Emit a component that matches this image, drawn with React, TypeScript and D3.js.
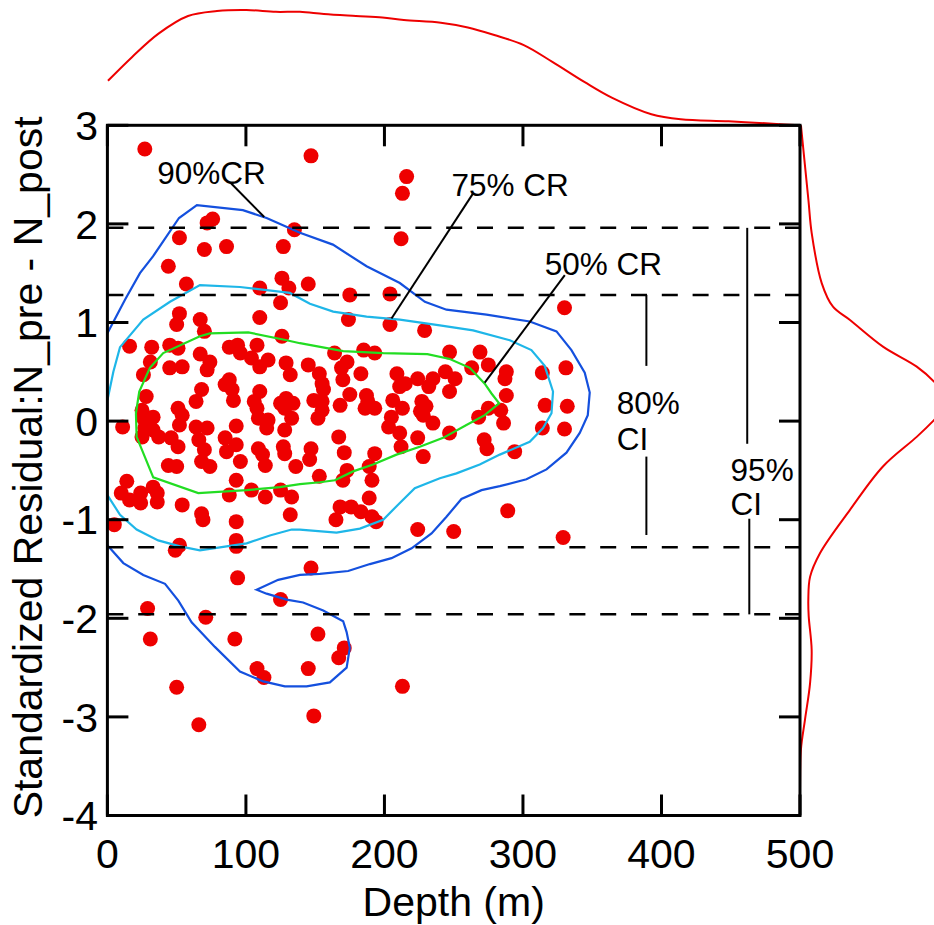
import React, { useEffect } from "react";
import * as d3 from "d3";

const W = 934;
const H = 925;
const xDomain: [number, number] = [0, 500];
const yDomain: [number, number] = [-4, 3];
const xTicks = [0, 100, 200, 300, 400, 500];
const yTicks = [3, 2, 1, 0, -1, -2, -3, -4];
const ciLevels = [1.96, 1.28, -1.28, -1.96];

// [depth (m), standardized residual]
const points: [number, number][] = [
  [27, 2.76], [147, 2.69], [76, 2.05], [72, 2.01], [52, 1.86], [70, 1.74], [86, 1.77], [135, 1.94],
  [44, 1.57], [127, 1.77], [57, 1.39], [110, 1.35], [126, 1.45], [131, 1.35], [145, 1.39], [125, 1.2],
  [52, 1.09], [50, 0.98], [67, 1.03], [70, 0.91], [110, 1.05], [126, 0.86],
  [216, 2.48], [213, 2.31], [212, 1.85], [175, 1.28], [204, 1.29], [174, 1.03], [204, 0.98], [229, 0.92],
  [330, 1.15], [314, 0.49], [331, 0.54], [316, 0.16], [332, 0.15], [314, -0.07], [330, -0.08], [329, -1.18],
  [145, 0.57], [164, 0.69], [173, 0.6], [169, 0.54], [170, 0.42], [185, 0.72], [193, 0.69], [183, 0.48],
  [153, 0.48], [155, 0.38], [156, 0.32], [149, 0.21], [155, 0.2], [155, 0.11], [152, 0.03], [168, 0.16],
  [175, 0.27], [187, 0.26], [188, 0.2], [186, 0.13], [193, 0.13], [209, 0.48], [215, 0.38], [211, 0.35],
  [224, 0.43], [232, 0.35], [235, 0.43], [244, 0.5], [251, 0.43], [247, 0.3], [206, 0.21], [213, 0.13],
  [227, 0.2], [230, 0.15], [226, 0.1], [228, 0.06], [235, -0.02], [205, 0.04], [203, -0.06], [211, -0.12],
  [224, -0.17], [212, -0.26], [228, -0.36], [247, -0.12], [247, 0.7], [269, 0.7], [275, 0.57], [263, 0.54],
  [288, 0.5], [287, 0.43], [288, 0.26], [268, 0.04], [275, 0.13], [284, 0.11], [286, -0.02], [272, -0.19],
  [274, -0.28], [294, -0.31], [167, -0.16], [171, -0.32], [147, -0.28], [146, -0.39], [136, -0.46], [153, -0.56],
  [173, -0.5], [170, -0.6], [193, -0.33], [189, -0.46], [191, -0.6], [189, -0.78], [168, -0.87], [176, -0.87],
  [183, -0.92], [165, -1.0], [191, -0.97], [194, -1.02], [224, -1.1], [250, -1.12], [289, -0.91], [147, -1.49],
  [16, 0.76], [32, 0.75], [31, 0.6], [26, 0.47], [45, 0.77], [51, 0.74], [45, 0.54], [54, 0.55],
  [67, 0.68], [74, 0.6], [72, 0.52], [88, 0.75], [94, 0.77], [96, 0.69], [108, 0.77], [104, 0.64],
  [110, 0.55], [116, 0.62], [129, 0.59], [132, 0.47], [28, 0.25], [25, 0.11], [26, 0.03], [33, 0.04],
  [27, -0.07], [33, -0.09], [37, -0.16], [25, -0.16], [11, -0.06], [51, 0.13], [54, 0.06], [52, -0.04],
  [46, -0.17], [51, -0.26], [64, 0.2], [68, 0.32], [64, -0.06], [72, -0.07], [66, -0.19], [70, -0.29],
  [68, -0.41], [74, -0.46], [85, 0.37], [88, 0.42], [90, 0.32], [91, 0.21], [93, -0.05], [85, -0.17],
  [93, -0.24], [86, -0.31], [96, -0.41], [44, -0.45], [50, -0.46], [93, -0.6], [110, 0.3], [106, 0.2],
  [108, 0.13], [109, 0.03], [116, 0.01], [115, -0.07], [125, 0.18], [129, 0.23], [134, 0.18], [128, 0.13],
  [133, 0.03], [128, -0.09], [109, -0.28], [112, -0.34], [114, -0.45], [127, -0.26], [128, -0.33], [14, -0.61],
  [10, -0.73], [16, -0.8], [24, -0.73], [24, -0.83], [33, -0.67], [36, -0.73], [36, -0.82], [54, -0.85],
  [68, -0.94], [69, -1.0], [93, -1.02], [88, -0.75], [104, -0.7], [114, -0.77], [125, -0.7], [133, -0.77],
  [132, -0.95], [5, -1.05], [52, -1.26], [49, -1.31], [93, -1.21], [93, -1.27], [94, -1.59],
  [125, -1.81], [29, -1.9], [71, -1.99], [31, -2.21], [92, -2.21], [152, -2.16], [171, -2.3], [167, -2.4],
  [108, -2.51], [113, -2.6], [145, -2.51], [50, -2.7], [213, -2.69], [149, -2.99], [66, -3.08],
];

const contour90: [number, number][] = [
  [0, 0.89], [12.7, 1.23], [23.5, 1.5], [32.9, 1.67], [51.7, 2.06], [64.6, 2.19], [97.8, 2.14], [114.9, 2.06],
  [139, 1.91], [162.8, 1.79], [187.1, 1.57], [211.1, 1.4], [229.2, 1.21], [244.8, 1.13], [273.7, 1.08],
  [304.9, 1.01], [324.2, 0.91], [335, 0.72], [344.6, 0.49], [348.2, 0.29], [346.8, 0.06], [341, -0.12],
  [331.4, -0.32], [317, -0.49], [302.5, -0.59], [283.3, -0.66], [270.1, -0.7], [255.6, -0.79], [244.8, -0.97],
  [234, -1.14], [219.6, -1.29], [205.1, -1.39], [189.5, -1.45], [173.8, -1.52], [153.4, -1.55], [139, -1.56],
  [123.3, -1.61], [107.7, -1.71], [114.9, -1.75], [129.4, -1.81], [141.3, -1.84], [155.8, -1.92], [170.2, -2.03],
  [172.7, -2.14], [175, -2.3], [172.7, -2.5], [160.6, -2.65], [143.8, -2.69], [128.1, -2.69], [112.5, -2.64],
  [95.7, -2.54], [77.6, -2.29], [60.8, -2.04], [51.2, -1.82], [41.6, -1.65], [25.9, -1.56], [11.5, -1.44], [0, -1.26],
];

const contour75: [number, number][] = [
  [0, 0.21], [4.3, 0.5], [9.1, 0.75], [25.9, 1.03], [45.2, 1.21], [66.8, 1.38], [95.7, 1.36], [131.7, 1.3],
  [146.2, 1.19], [163, 1.11], [187.1, 1.06], [211.1, 1.03], [240, 0.97], [264, 0.92], [290.5, 0.82],
  [306.1, 0.72], [315.7, 0.56], [321.7, 0.3], [320.6, 0.08], [314.5, -0.07], [304.9, -0.21], [283.3, -0.34],
  [268.8, -0.44], [252, -0.53], [240, -0.58], [221.9, -0.68], [211.1, -0.83], [199.1, -1.0], [182.3, -1.09],
  [165.4, -1.13], [139, -1.1], [133, -1.1], [117.3, -1.16], [100.5, -1.24], [81.2, -1.28], [66.8, -1.31],
  [52.4, -1.27], [36.7, -1.21], [21.1, -1.1], [9.1, -0.95], [0, -0.75],
];

const contour50: [number, number][] = [
  [20.6, 0.08], [23, 0.3], [30.7, 0.54], [40.3, 0.69], [66.8, 0.86], [74, 0.89], [101.7, 0.9], [129.4, 0.82],
  [139, 0.79], [170.2, 0.71], [199.1, 0.69], [231, 0.68], [247.2, 0.63], [261.6, 0.54], [272.4, 0.38],
  [277.3, 0.28], [282.8, 0.18], [272.4, 0.06], [259.2, -0.04], [242.4, -0.17], [225.5, -0.26], [208.7, -0.34],
  [191.8, -0.44], [177.4, -0.51], [164.2, -0.6], [153.4, -0.62], [139, -0.64], [124.5, -0.67], [100.5, -0.7],
  [65.6, -0.73], [33.1, -0.57], [21.1, -0.16], [20.6, 0.08],
];

// marginal density of depth: [depth, relative density]
const depthDensity: [number, number][] = [
  [0.4, 0.386], [17.7, 0.591], [36.9, 0.795], [58.2, 0.948], [79.1, 0.991], [100.4, 1.0], [121.6, 0.984],
  [139, 0.984], [156.3, 0.965], [179.4, 0.948], [198.5, 0.935], [214, 0.913], [240.7, 0.889], [260.2, 0.848],
  [279.3, 0.783], [300.6, 0.696], [321.5, 0.548], [344.6, 0.374], [364.1, 0.24], [392.7, 0.096], [413.9, 0.052],
  [448.5, 0.035], [483.1, 0.012], [500, 0],
];

// marginal density of residual: [residual, relative density]
const residualDensity: [number, number][] = [
  [3.0, 0.007], [2.24, 0.063], [1.91, 0.087], [1.4, 0.162], [1.16, 0.246], [1.025, 0.373], [0.755, 0.619],
  [0.552, 0.871], [0.4, 1.0], [0.19, 1.12], [0.01, 1.0], [-0.16, 0.871], [-0.46, 0.619], [-0.9, 0.373],
  [-1.34, 0.149], [-1.58, 0.075], [-1.82, 0.062], [-1.98, 0.065], [-2.32, 0.087], [-2.66, 0.075],
  [-3.03, 0.037], [-3.33, 0.007], [-3.74, 0], [-4.0, 0],
];

const crLabels = [
  { text: "90%CR", at: [36, 2.4], from: [89.4, 2.41], to: [113.2, 2.07] },
  { text: "75% CR", at: [248.4, 2.28], from: [264, 2.31], to: [205.1, 1.04] },
  { text: "50% CR", at: [315.7, 1.48], from: [330.2, 1.48], to: [272.4, 0.39] },
];

// confidence interval brackets: [depth, upper segment, lower segment, label depth, label residuals]
const ciBrackets = [
  { label: "80%", xUpper: 389.1, xLower: 389.1, upper: [1.28, 0.56], lower: [-0.36, -1.155], at: [367.7, 0.07, -0.29] },
  { label: "95%", xUpper: 461.9, xLower: 463.4, upper: [1.96, -0.23], lower: [-0.99, -1.96], at: [449.9, -0.61, -0.95] },
];

const FONT = "'Liberation Sans', Arial, Helvetica, sans-serif";

export default function App() {
  useEffect(() => {
    document.body.style.margin = "0";
    document.body.style.overflow = "hidden";
  }, []);

  const x = d3.scaleLinear().domain(xDomain).range([107.4, 800]);
  const y = d3.scaleLinear().domain(yDomain).range([815.5, 125.3]);
  const topY = d3.scaleLinear().domain([0, 1]).range([125.3, 10]);
  const rightX = d3.scaleLinear().domain([0, 1]).range([800, 934]);

  const line = d3
    .line<[number, number]>()
    .x((d) => x(d[0]))
    .y((d) => y(d[1]));
  const topLine = d3
    .line<[number, number]>()
    .x((d) => x(d[0]))
    .y((d) => topY(d[1]))
    .curve(d3.curveCatmullRom);
  const rightLine = d3
    .line<[number, number]>()
    .x((d) => rightX(d[1]))
    .y((d) => y(d[0]))
    .curve(d3.curveCatmullRom);

  const [x0, x1] = x.range();
  const [y0, y1] = y.range();
  const tickLen = 21;

  return (
    <svg
      width={W}
      height={H}
      viewBox={`0 0 ${W} ${H}`}
      style={{ position: "absolute", left: 0, top: 0, background: "#fff", overflow: "hidden" }}
      fontFamily={FONT}
    >
      <rect x={0} y={0} width={W} height={H} fill="#fff" />

      {/* marginal densities */}
      <path d={topLine(depthDensity) || ""} fill="none" stroke="#ee0000" strokeWidth={2} />
      <path d={rightLine(residualDensity) || ""} fill="none" stroke="#ee0000" strokeWidth={2} />

      {/* points */}
      {points.map((p, i) => (
        <circle key={i} cx={x(p[0])} cy={y(p[1])} r={7.5} fill="#ee0000" />
      ))}

      {/* credible regions */}
      <path d={line(contour90) || ""} fill="none" stroke="#1450de" strokeWidth={2.2} />
      <path d={line(contour75) || ""} fill="none" stroke="#1eb6e8" strokeWidth={2.2} />
      <path d={line(contour50) || ""} fill="none" stroke="#22dd22" strokeWidth={2.2} />

      {/* CI dashed lines */}
      {ciLevels.map((v) => (
        <line
          key={v}
          x1={x0}
          x2={x1}
          y1={y(v)}
          y2={y(v)}
          stroke="#000"
          strokeWidth={2.5}
          strokeDasharray="16 14.8"
        />
      ))}

      {/* CR labels and leaders */}
      {crLabels.map((l) => (
        <g key={l.text}>
          <line
            x1={x(l.from[0])}
            y1={y(l.from[1])}
            x2={x(l.to[0])}
            y2={y(l.to[1])}
            stroke="#000"
            strokeWidth={2}
          />
          <text x={x(l.at[0])} y={y(l.at[1])} fontSize={31.5} fill="#000">
            {l.text}
          </text>
        </g>
      ))}

      {/* CI brackets */}
      {ciBrackets.map((b) => (
        <g key={b.label}>
          <line x1={x(b.xUpper)} x2={x(b.xUpper)} y1={y(b.upper[0])} y2={y(b.upper[1])} stroke="#000" strokeWidth={2} />
          <line x1={x(b.xLower)} x2={x(b.xLower)} y1={y(b.lower[0])} y2={y(b.lower[1])} stroke="#000" strokeWidth={2} />
          <text x={x(b.at[0])} y={y(b.at[1])} fontSize={31.5}>{b.label}</text>
          <text x={x(b.at[0])} y={y(b.at[2])} fontSize={31.5}>CI</text>
        </g>
      ))}

      {/* ticks */}
      {xTicks.map((t) => (
        <g key={"xt" + t}>
          <line x1={x(t)} x2={x(t)} y1={y0} y2={y0 - tickLen} stroke="#000" strokeWidth={3} />
          <line x1={x(t)} x2={x(t)} y1={y1} y2={y1 + tickLen} stroke="#000" strokeWidth={3} />
          <text x={x(t)} y={868} fontSize={41} textAnchor="middle">
            {t}
          </text>
        </g>
      ))}
      {yTicks.map((t) => (
        <g key={"yt" + t}>
          <line x1={x0} x2={x0 + tickLen} y1={y(t)} y2={y(t)} stroke="#000" strokeWidth={3} />
          <line x1={x1} x2={x1 - tickLen} y1={y(t)} y2={y(t)} stroke="#000" strokeWidth={3} />
          <text x={98} y={y(t)} dy="0.36em" fontSize={41} textAnchor="end">
            {t}
          </text>
        </g>
      ))}

      {/* frame */}
      <rect x={x0} y={y1} width={x1 - x0} height={y0 - y1} fill="none" stroke="#000" strokeWidth={3} />

      {/* axis titles */}
      <text x={453.7} y={916} fontSize={41} textAnchor="middle">
        Depth (m)
      </text>
      <text
        transform={`translate(42, ${(y0 + y1) / 2 - 3}) rotate(-90)`}
        fontSize={41}
        textAnchor="middle"
      >
        Standardized Residual:N_pre - N_post
      </text>
    </svg>
  );
}
